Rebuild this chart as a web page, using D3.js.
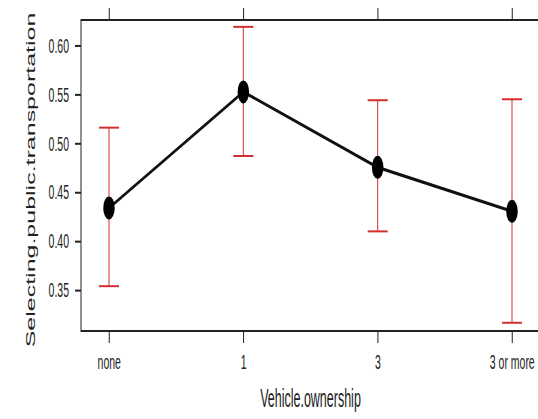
<!DOCTYPE html>
<html>
<head>
<meta charset="utf-8">
<script src="https://cdn.jsdelivr.net/npm/d3@7"></script>
<style>
  html, body { margin: 0; padding: 0; background: #fff; }
  svg { display: block; }
  text { font-family: "Liberation Sans", Arial, sans-serif; fill: #222; }
</style>
</head>
<body>
<svg id="chart" width="538" height="419"></svg>
<script>
// ---- data ----
const categories = ["none", "1", "3", "3 or more"];
const fitValues  = [0.434, 0.5525, 0.4755, 0.4305];
const lowerCI    = [0.354, 0.487, 0.410, 0.3166];
const upperCI    = [0.516, 0.619, 0.544, 0.545];
const yTickValues = [0.35, 0.40, 0.45, 0.50, 0.55, 0.60];
const xTitle = "Vehicle.ownership";
const yTitle = "Selecting.public.transportation";

// ---- layout (inner coordinate system, horizontally squeezed on screen) ----
const W = 538, H = 419;
const sx = 0.5;                 // horizontal squeeze of the whole figure
const plotL = 162, plotR = 1080, plotT = 20, plotB = 331;

const svg = d3.select("#chart");
svg.append("rect").attr("width", W).attr("height", H).attr("fill", "#fff");
const g = svg.append("g").attr("transform", `scale(${sx},1)`);

const x = d3.scalePoint().domain(categories).range([218, 1024]);
const y = d3.scaleLinear().domain([0.3082, 0.626]).range([plotB, plotT]);

const data = categories.map((c, i) => ({ c, fit: fitValues[i], lo: lowerCI[i], hi: upperCI[i] }));

// axes
const axisColor = "#222";
function styleAxis(sel) {
  sel.select(".domain").remove();
  sel.selectAll(".tick line").attr("stroke", axisColor).attr("stroke-width", 2);
  sel.selectAll(".tick text").attr("fill", "#222").attr("font-family", "Liberation Sans, Arial, sans-serif");
}
g.append("g").attr("transform", `translate(${plotL},0)`)
  .call(d3.axisLeft(y).tickValues(yTickValues).tickSize(12).tickPadding(12).tickFormat(d3.format(".2f")))
  .attr("font-size", 21).call(styleAxis);
g.append("g").attr("transform", `translate(${plotR},0)`)
  .call(d3.axisRight(y).tickValues(yTickValues).tickSize(12).tickFormat(""))
  .call(styleAxis);
g.append("g").attr("transform", `translate(0,${plotB})`)
  .call(d3.axisBottom(x).tickSize(12).tickPadding(11))
  .attr("font-size", 21).call(styleAxis);
g.append("g").attr("transform", `translate(0,${plotT})`)
  .call(d3.axisTop(x).tickSize(12).tickFormat(""))
  .call(styleAxis);

// frame
g.append("rect")
  .attr("x", plotL).attr("y", plotT)
  .attr("width", plotR - plotL).attr("height", plotB - plotT)
  .attr("fill", "none").attr("stroke", axisColor).attr("stroke-width", 2);

// error bars
const red = "#d42f2f";
const capHalf = 20;
const eb = g.append("g").attr("stroke", red).attr("stroke-width", 2).attr("fill", "none");
eb.selectAll(".whisker").data(data).join("line")
  .attr("x1", d => x(d.c)).attr("x2", d => x(d.c))
  .attr("y1", d => y(d.lo)).attr("y2", d => y(d.hi));
eb.selectAll(".capHi").data(data).join("line")
  .attr("x1", d => x(d.c) - capHalf).attr("x2", d => x(d.c) + capHalf)
  .attr("y1", d => y(d.hi)).attr("y2", d => y(d.hi));
eb.selectAll(".capLo").data(data).join("line")
  .attr("x1", d => x(d.c) - capHalf).attr("x2", d => x(d.c) + capHalf)
  .attr("y1", d => y(d.lo)).attr("y2", d => y(d.lo));

// fitted line
g.append("path").datum(data)
  .attr("fill", "none").attr("stroke", "#111").attr("stroke-width", 3.3)
  .attr("d", d3.line().x(d => x(d.c)).y(d => y(d.fit)));

// points
g.selectAll(".pt").data(data).join("circle")
  .attr("cx", d => x(d.c)).attr("cy", d => y(d.fit)).attr("r", 11.5)
  .attr("fill", "#000");

// titles
g.append("text")
  .attr("x", (plotL + plotR) / 2).attr("y", 407)
  .attr("text-anchor", "middle").attr("font-size", 25)
  .text(xTitle);
g.append("text")
  .attr("transform", `translate(70,180) rotate(-90)`)
  .attr("text-anchor", "middle").attr("font-size", 25)
  .text(yTitle);
</script>
</body>
</html>
